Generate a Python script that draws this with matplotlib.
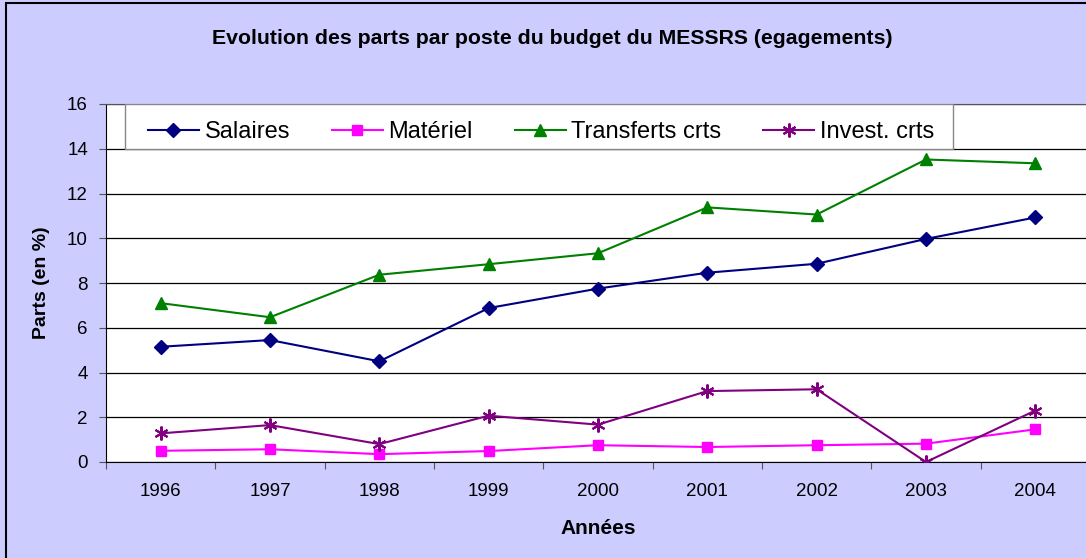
import matplotlib
matplotlib.use("Agg")
from matplotlib import pyplot as plt
from matplotlib.patches import Rectangle
import numpy as np

plt.rcParams["font.family"] = ["Liberation Sans", "DejaVu Sans"]

# data
years = ["1996", "1997", "1998", "1999", "2000", "2001", "2002", "2003", "2004"]
salaires = [5.15, 5.45, 4.5, 6.88, 7.75, 8.46, 8.86, 9.97, 10.93]
materiel = [0.5, 0.57, 0.35, 0.49, 0.75, 0.67, 0.75, 0.82, 1.46]
transferts = [7.1, 6.47, 8.37, 8.84, 9.33, 11.38, 11.06, 13.52, 13.35]
invest = [1.28, 1.65, 0.8, 2.07, 1.67, 3.17, 3.25, 0.0, 2.3]

W, H = 1086, 558
fig = plt.figure(figsize=(W / 100, H / 100), dpi=100, facecolor="#CCCCFF")

# plot area (pixels): left 106, right ~1090 (cut), top 104, bottom 462
ax = fig.add_axes([106 / W, 1 - 462 / H, 984 / W, 358 / H])
ax.set_facecolor("white")

x = np.arange(len(years))
ax.plot(x, salaires, color="#000080", lw=1.5, marker="D", ms=7, label="Salaires", zorder=4)
ax.plot(x, materiel, color="#FF00FF", lw=1.5, marker="s", ms=7, label="Matériel", zorder=4)
ax.plot(x, transferts, color="#008000", lw=1.5, marker="^", ms=9, label="Transferts crts", zorder=4)
ax.plot(x, invest, color="#800080", lw=1.5, marker=(6, 2, 0), ms=10, mew=1.5,
        label="Invest. crts", zorder=4)

ax.set_xlim(-0.5, len(years) - 0.5)
ax.set_ylim(0, 16)
ax.set_yticks(np.arange(0, 17, 2))
ax.yaxis.grid(True, color="black", lw=0.9)
ax.set_axisbelow(True)

# category ticks at boundaries, labels centred
ax.set_xticks(np.arange(-0.5, len(years), 1.0))
ax.set_xticklabels([])
ax.set_xticks(x, minor=True)
ax.set_xticklabels(years, minor=True)
ax.tick_params(axis="x", which="minor", length=0, pad=15, labelsize=13.5)
ax.tick_params(axis="x", which="major", length=5, color="#555555")
ax.tick_params(axis="y", length=5, pad=8, labelsize=13.5, color="#555555")

ax.spines["right"].set_visible(False)
ax.spines["top"].set_color("#555555")
ax.spines["left"].set_color("black")
ax.spines["bottom"].set_color("black")

ax.set_ylabel("Parts (en %)", fontsize=14, fontweight="bold", labelpad=12)
ax.set_xlabel("Années", fontsize=15, fontweight="bold", labelpad=14)

# legend box over the top band
ax.add_patch(Rectangle((19 / 984, 313 / 358), 828 / 984, 45 / 358, transform=ax.transAxes,
                       facecolor="white", edgecolor="#888888", lw=1, zorder=5))
leg = ax.legend(loc="upper left", bbox_to_anchor=(25 / 984, 1.0), ncol=4, frameon=False,
                fontsize=17, handlelength=2.15, handletextpad=0.25, columnspacing=1.77,
                borderaxespad=0.72, borderpad=0)
leg.set_zorder(6)

fig.text(552 / W, 1 - 38 / H, "Evolution des parts par poste du budget du MESSRS (egagements)",
         ha="center", va="center", fontsize=15.3, fontweight="bold")

# chart area border (only top and left visible)
fig.add_artist(Rectangle((6 / W, -0.1), 1.2, 1.1 - 3 / H, transform=fig.transFigure,
                         facecolor="none", edgecolor="black", lw=1.5))

fig.savefig("out.png", dpi=100, facecolor=fig.get_facecolor())
